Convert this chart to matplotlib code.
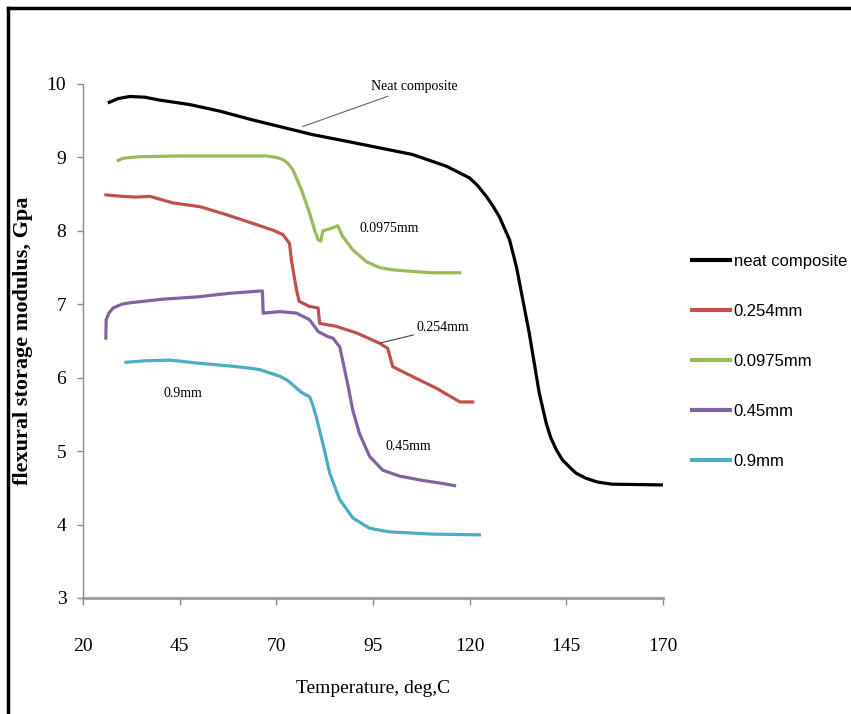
import numpy as np
import matplotlib
matplotlib.use("Agg")
import matplotlib.pyplot as plt
from matplotlib.lines import Line2D

# temperature (deg C) and storage modulus (GPa)
t_neat = [26.8, 29, 32.1, 36, 39.9, 47.6, 55.4, 63.9, 70.9, 79.4, 88.2, 96.7, 105.2, 114, 120, 122,
          124.3, 126, 127.7, 130.3, 132.1, 133.6, 135.4, 136.7, 138, 139.8, 141, 142.4, 144, 145.7,
          147.5, 150.1, 153, 156.8, 169.8]
e_neat = [9.75, 9.80, 9.83, 9.82, 9.78, 9.72, 9.63, 9.51, 9.42, 9.31, 9.22, 9.13, 9.04, 8.88, 8.72, 8.62,
          8.47, 8.34, 8.19, 7.88, 7.51, 7.10, 6.61, 6.20, 5.79, 5.38, 5.18, 5.02, 4.88, 4.79,
          4.70, 4.63, 4.58, 4.55, 4.54]

t_0254 = [25.9, 30, 33.9, 37.3, 43.3, 50.2, 57.1, 64, 69.1, 71.7, 73.4, 73.9, 75.2, 75.9, 78.6, 80.8,
          81.2, 85.5, 90.7, 96.7, 98.8, 100.1, 106.2, 111.3, 116.5, 117.5, 120.8]
e_0254 = [8.49, 8.47, 8.46, 8.47, 8.38, 8.33, 8.22, 8.10, 8.01, 7.95, 7.83, 7.60, 7.20, 7.04, 6.97, 6.95,
          6.74, 6.70, 6.61, 6.47, 6.40, 6.15, 5.99, 5.86, 5.70, 5.67, 5.67]

t_00975 = [29.1, 30.5, 34.7, 45, 55, 67.4, 70, 71.7, 73, 74.3, 76.5, 78.6, 79.9, 80.8, 81.5, 82,
           84, 85.9, 87.2, 89.8, 93.3, 96.7, 100, 104.5, 110, 117.4]
e_00975 = [8.96, 8.99, 9.01, 9.02, 9.02, 9.02, 9.00, 8.97, 8.92, 8.83, 8.56, 8.24, 8.01, 7.88, 7.86, 8.00,
           8.03, 8.07, 7.92, 7.74, 7.58, 7.50, 7.47, 7.45, 7.43, 7.43]

t_045 = [25.9, 26, 26.7, 27.8, 30, 32.1, 40.7, 49.4, 58, 65.7, 66.4, 66.6, 70.9, 75.2, 78.6, 80.8,
         83.3, 84.6, 86.4, 87.5, 88.5, 89.8, 91.5, 94.1, 97.5, 101.9, 107.9, 113, 116.1]
e_045 = [6.54, 6.79, 6.88, 6.95, 7.00, 7.02, 7.07, 7.10, 7.15, 7.18, 7.18, 6.88, 6.90, 6.88, 6.79, 6.63,
         6.56, 6.54, 6.42, 6.15, 5.90, 5.55, 5.24, 4.93, 4.74, 4.66, 4.60, 4.56, 4.53]

t_09 = [31.1, 36, 42.5, 49.4, 58, 63.1, 65.7, 70.9, 73, 75.2, 76.5, 78.6, 79.3, 80.3, 82, 83.8,
        86.4, 89.8, 94.1, 99.3, 110.5, 122.5]
e_09 = [6.21, 6.23, 6.24, 6.20, 6.16, 6.13, 6.11, 6.02, 5.96, 5.86, 5.80, 5.74, 5.65, 5.47, 5.11, 4.70,
        4.34, 4.09, 3.95, 3.90, 3.87, 3.86]

labels = ["neat composite", "0.254mm", "0.0975mm", "0.45mm", "0.9mm"]
colors = ["#000000", "#C0504D", "#9BBB59", "#8064A2", "#4BACC6"]

x_ticks = [20, 45, 70, 95, 120, 145, 170]
y_ticks = [3, 4, 5, 6, 7, 8, 9, 10]

serif = ["Liberation Serif", "DejaVu Serif"]
sans = ["Liberation Sans", "DejaVu Sans"]

fig = plt.figure(figsize=(8.51, 7.14), dpi=100)
ax = fig.add_axes([83 / 851, 1 - 598 / 714, (663 - 83) / 851, (598 - 84) / 714])

series = [(t_neat, e_neat), (t_0254, e_0254), (t_00975, e_00975), (t_045, e_045), (t_09, e_09)]
for (t, e), lab, c in zip(series, labels, colors):
    ax.plot(t, e, color=c, lw=2.3, label=lab, solid_joinstyle="round")

ax.set_xlim(20, 170)
ax.set_ylim(3, 10)
ax.set_xticks(x_ticks)
ax.set_yticks(y_ticks)
for s in ["top", "right"]:
    ax.spines[s].set_visible(False)
ax.spines["left"].set_color("#8c8c8c")
ax.spines["left"].set_linewidth(1.0)
ax.spines["bottom"].set_color("#9a9a9a")
ax.spines["bottom"].set_linewidth(2.0)
ax.tick_params(axis="x", direction="out", length=5, width=1, color="#8c8c8c", pad=24)
ax.tick_params(axis="y", direction="out", length=4, width=1, color="#8c8c8c", pad=8)
for lbl in ax.get_xticklabels() + ax.get_yticklabels():
    lbl.set_family(serif)
    lbl.set_fontsize(14)

ax.set_xlabel("Temperature, deg,C", family=serif, fontsize=14, labelpad=18)
ax.set_ylabel("flexural storage modulus, Gpa", family=serif, fontsize=16,
              fontweight="bold", labelpad=10)

# curve labels with leader lines
ax.annotate("Neat composite", xy=(76.8, 9.42), xytext=(94.4, 9.96), family=serif, fontsize=10,
            va="center", arrowprops=dict(arrowstyle="-", color="#666666", lw=0.8, shrinkA=0, shrinkB=0))
ax.annotate("0.254mm", xy=(96.7, 6.47), xytext=(106.2, 6.68), family=serif, fontsize=10,
            va="center", arrowprops=dict(arrowstyle="-", color="#444444", lw=0.8, shrinkA=0, shrinkB=0))
ax.text(91.5, 8.03, "0.0975mm", family=serif, fontsize=10, va="center")
ax.text(98.2, 5.06, "0.45mm", family=serif, fontsize=10, va="center")
ax.text(40.9, 5.79, "0.9mm", family=serif, fontsize=10, va="center")

leg = fig.legend(loc="upper left", bbox_to_anchor=(692 / 851, 1 - 254 / 714), frameon=False,
                 prop={"family": sans, "size": 12}, handlelength=2.3, handletextpad=0.2,
                 labelspacing=2.1, borderpad=0, borderaxespad=0)
for h in leg.get_lines():
    h.set_linewidth(3)

# outer frame of the pasted picture
fig.add_artist(Line2D([8 / 851, 8 / 851], [0, 1 - 8 / 714], color="black", lw=2.5))
fig.add_artist(Line2D([8 / 851, 1], [1 - 8 / 714, 1 - 8 / 714], color="black", lw=2.5))

fig.savefig("out.png", dpi=100)
